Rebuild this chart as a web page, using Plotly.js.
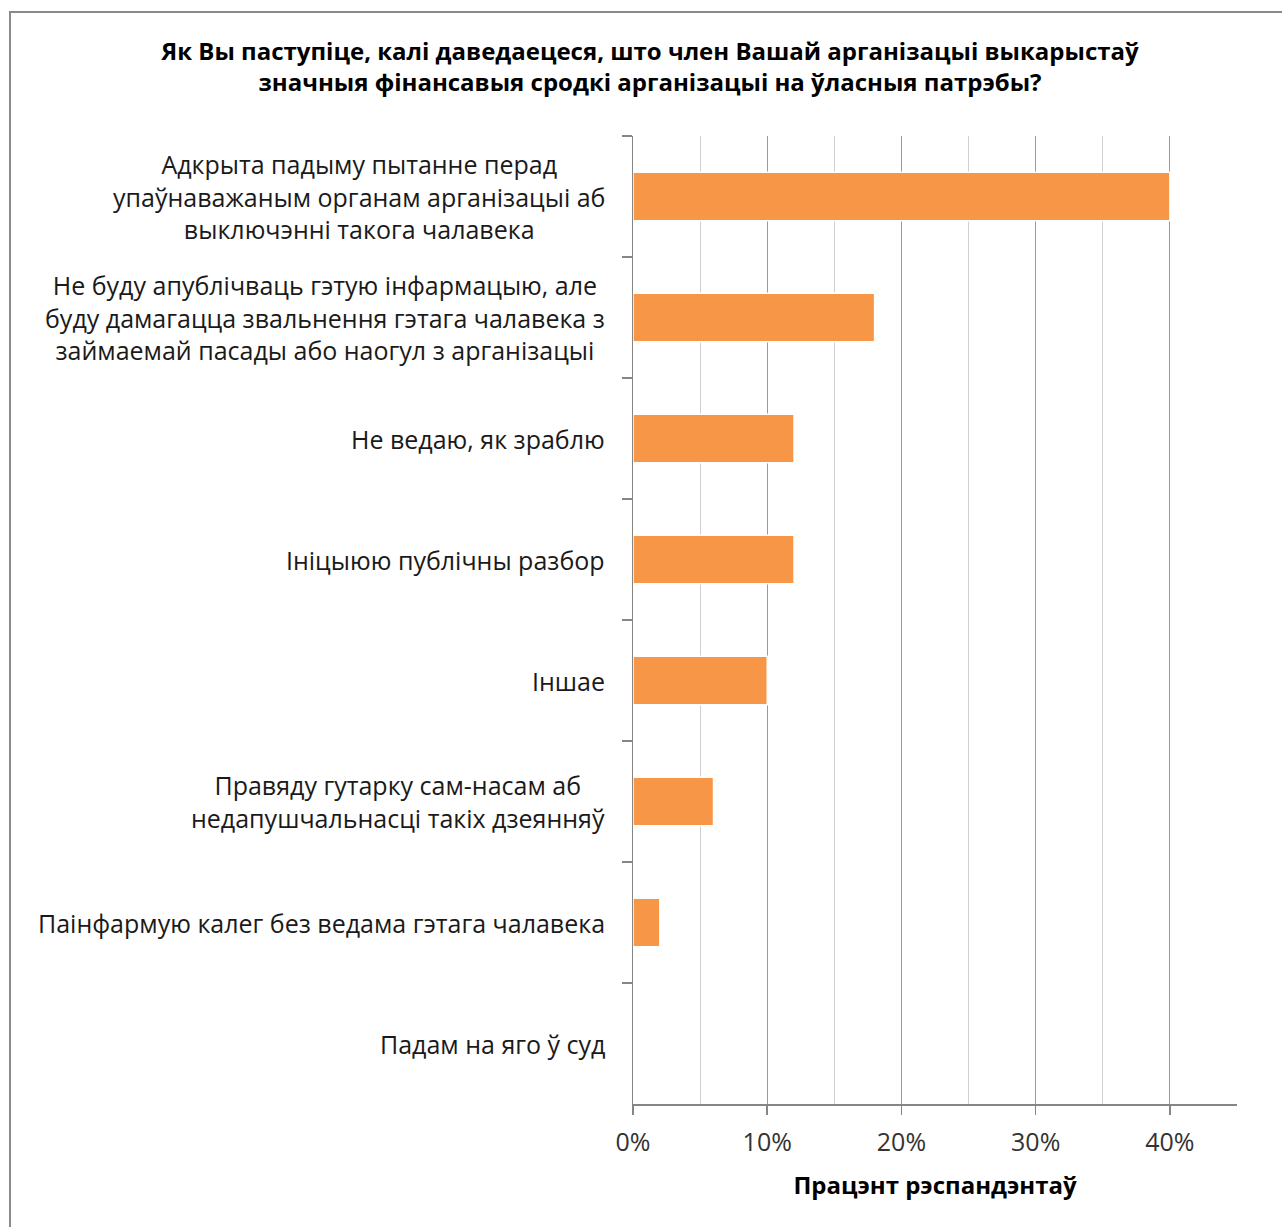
<!DOCTYPE html>
<html>
<head>
<meta charset="utf-8">
<script src="https://cdn.plot.ly/plotly-3.0.1.min.js"></script>
<style>
html,body{margin:0;padding:0;background:#fff;}
#wrap{position:relative;width:1282px;height:1227px;overflow:hidden;}
#chart{position:absolute;left:0;top:0;width:1282px;height:1227px;}
#frame{position:absolute;left:9px;top:11px;width:1300px;height:1300px;border:2px solid #8a8a8a;pointer-events:none;}
</style>
</head>
<body>
<div id="wrap"><div id="chart"></div><div id="frame"></div></div>
<script>
var categories = [
  "Адкрыта падыму пытанне перад<br>упаўнаважаным органам арганізацыі аб<br>выключэнні такога чалавека",
  "Не буду апублічваць гэтую інфармацыю, але<br>буду дамагацца звальнення гэтага чалавека з<br>займаемай пасады або наогул з арганізацыі",
  "Не ведаю, як зраблю",
  "Ініцыюю публічны разбор",
  "Іншае",
  "Правяду гутарку сам-насам аб<br>недапушчальнасці такіх дзеянняў",
  "Паінфармую калег без ведама гэтага чалавека",
  "Падам на яго ў суд"
];
var percents = [40, 18, 12, 12, 10, 6, 2, 0];
var tickVals = [0, 10, 20, 30, 40];
var tickText = ["0%", "10%", "20%", "30%", "40%"];
var chartTitle = "Як Вы паступіце, калі даведаецеся, што член Вашай арганізацыі выкарыстаў<br>значныя фінансавыя сродкі арганізацыі на ўласныя патрэбы?";
var xTitle = "Працэнт рэспандэнтаў";

var FONT = "'Open Sans', 'Noto Sans', sans-serif";

var trace = {
  type: 'bar',
  orientation: 'h',
  x: percents,
  y: categories,
  marker: {color: '#F79646', line: {color: '#ffffff', width: 1.5}},
  hoverinfo: 'x+y'
};

var annotations = categories.map(function(c){
  return {
    xref: 'paper', yref: 'y', x: -0.043, y: c,
    xanchor: 'right', yanchor: 'middle', align: 'center',
    text: c, showarrow: false,
    font: {family: FONT, size: 25, color: '#1a1a1a'}
  };
});

var layout = {
  width: 1282, height: 1227,
  margin: {l: 633, r: 45, t: 136, b: 123},
  paper_bgcolor: 'rgba(0,0,0,0)',
  plot_bgcolor: '#ffffff',
  showlegend: false,
  bargap: 0.6,
  title: {
    text: chartTitle,
    xref: 'container', x: 0.507, xanchor: 'center',
    yref: 'container', y: 0.951, yanchor: 'top',
    font: {family: FONT, size: 24, color: '#000', weight: 'bold'}
  },
  xaxis: {
    range: [0, 45],
    tickvals: tickVals, ticktext: tickText,
    showgrid: true, gridcolor: '#9a9a9a', gridwidth: 1,
    minor: {dtick: 5, tick0: 0, showgrid: true, gridcolor: '#d0d0d0', gridwidth: 1, ticks: ''},
    zeroline: false,
    showline: true, linecolor: '#868686', linewidth: 1.5,
    ticks: 'outside', ticklen: 9, tickcolor: '#868686', tickwidth: 1.5,
    ticklabelstandoff: 6,
    tickfont: {family: FONT, size: 25, color: '#333'},
    fixedrange: true,
    title: {text: xTitle, standoff: 20, font: {family: FONT, size: 24, color: '#000', weight: 'bold'}}
  },
  yaxis: {
    type: 'category',
    autorange: 'reversed',
    showticklabels: false,
    tickson: 'boundaries',
    ticks: 'outside', ticklen: 10, tickcolor: '#868686', tickwidth: 1.5,
    showgrid: false,
    showline: true, linecolor: '#868686', linewidth: 1.5,
    fixedrange: true
  },
  annotations: annotations
};

Plotly.newPlot('chart', [trace], layout, {displayModeBar: false, staticPlot: true});
</script>
</body>
</html>
